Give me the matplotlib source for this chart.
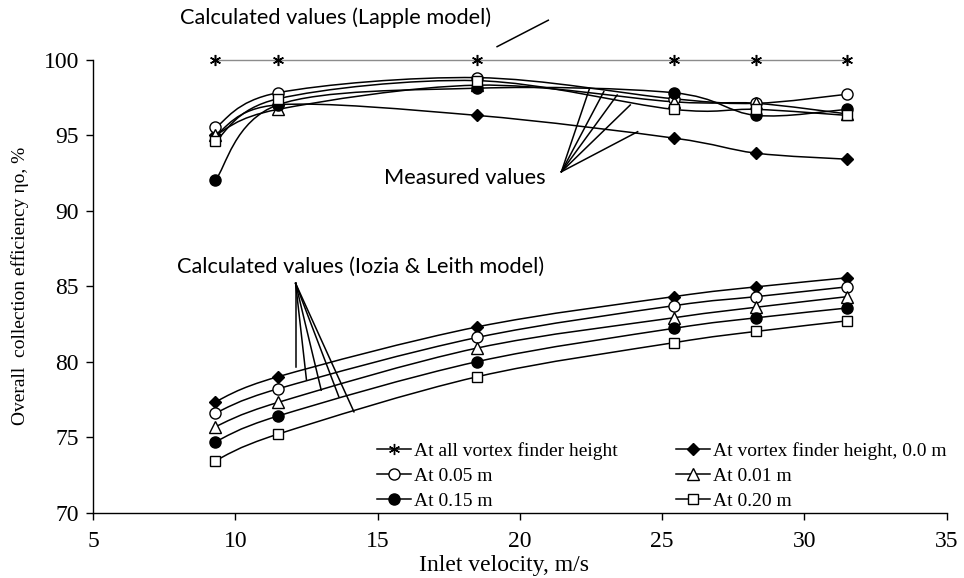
import numpy as np
import matplotlib
matplotlib.use("Agg")
import matplotlib.pyplot as plt
from matplotlib.path import Path
from matplotlib.patches import PathPatch
from matplotlib.lines import Line2D

# ---------------- data ----------------
velocity = [9.3, 11.5, 18.5, 25.4, 28.3, 31.5]

lapple_all = [100, 100, 100, 100, 100, 100]

meas_h000 = [95.0, 97.0, 96.3, 94.8, 93.8, 93.4]
meas_h005 = [95.5, 97.8, 98.8, 97.4, 97.1, 97.7]
meas_h001 = [95.0, 96.7, 98.3, 97.2, 97.1, 96.4]
meas_h015 = [92.0, 97.0, 98.1, 97.8, 96.3, 96.7]
meas_h020 = [94.6, 97.4, 98.6, 96.7, 96.7, 96.3]

iozia_h000 = [77.35, 79.0, 82.3, 84.3, 84.95, 85.55]
iozia_h005 = [76.6, 78.2, 81.6, 83.7, 84.3, 84.95]
iozia_h001 = [75.7, 77.3, 80.9, 82.9, 83.6, 84.3]
iozia_h015 = [74.7, 76.4, 80.0, 82.2, 82.9, 83.55]
iozia_h020 = [73.45, 75.2, 79.0, 81.25, 82.0, 82.7]

legend_labels = ["At all vortex finder height", "At vortex finder height, 0.0 m",
                 "At 0.05 m", "At 0.01 m", "At 0.15 m", "At 0.20 m"]

x_ticks = [5, 10, 15, 20, 25, 30, 35]
y_ticks = [70, 75, 80, 85, 90, 95, 100]

# ---------------- style ----------------
SERIF = ["Liberation Serif", "DejaVu Serif"]
SANS = ["Lato", "DejaVu Sans"]
ANN_FS = 15.7

fig = plt.figure(figsize=(9.64, 5.78), dpi=100)
ax = fig.add_axes([93 / 964, 1 - 512.7 / 578, (946.7 - 93) / 964, (512.7 - 59.5) / 578])
ax.set_xlim(5, 35)
ax.set_ylim(70, 100)


def smooth_path(xs, ys):
    """Excel-like smoothed line (Catmull-Rom cubic Bezier)."""
    pts = np.column_stack([xs, ys]).astype(float)
    n = len(pts)
    verts = [pts[0]]
    codes = [Path.MOVETO]
    for i in range(n - 1):
        p0 = pts[i - 1] if i > 0 else pts[i]
        p1 = pts[i]
        p2 = pts[i + 1]
        p3 = pts[i + 2] if i + 2 < n else pts[i + 1]
        c1 = p1 + (p2 - p0) / 6.0
        c2 = p2 - (p3 - p1) / 6.0
        verts += [c1, c2, p2]
        codes += [Path.CURVE4] * 3
    return Path(verts, codes)


def draw_series(ys, marker, mfc, color="black", lw=1.1, ms=7.5):
    ax.add_patch(PathPatch(smooth_path(velocity, ys), facecolor="none",
                           edgecolor=color, lw=lw, zorder=2))
    ax.plot(velocity, ys, linestyle="none", marker=marker, ms=ms,
            mfc=mfc, mec="black", mew=1.0, zorder=3, clip_on=False)


series_style = [
    ("D", "black", 6.5),
    ("o", "white", 8.0),
    ("^", "white", 8.0),
    ("o", "black", 8.0),
    ("s", "white", 7.5),
]

meas = [meas_h000, meas_h005, meas_h001, meas_h015, meas_h020]
iozia = [iozia_h000, iozia_h005, iozia_h001, iozia_h015, iozia_h020]

STAR = (6, 2, 0)

# Lapple line
ax.plot(velocity, lapple_all, color="#8c8c8c", lw=1.0, zorder=2, clip_on=False)
ax.plot(velocity, lapple_all, linestyle="none", marker=STAR, ms=8,
        mec="black", mew=1.1, zorder=3, clip_on=False)

for ys, (mk, fc, ms) in zip(iozia, series_style):
    draw_series(ys, mk, fc, ms=ms)
for ys, (mk, fc, ms) in zip(meas, series_style):
    draw_series(ys, mk, fc, ms=ms)

# ---------------- axes ----------------
for s in ["top", "right"]:
    ax.spines[s].set_visible(False)
for s in ["left", "bottom"]:
    ax.spines[s].set_linewidth(1.0)
ax.set_xticks(x_ticks)
ax.set_yticks(y_ticks)
ax.tick_params(direction="out", length=5, width=1.0, labelsize=17)
ax.tick_params(axis="x", pad=8)
ax.tick_params(axis="y", pad=5)
for lab in ax.get_xticklabels() + ax.get_yticklabels():
    lab.set_family(SERIF)
xl = ax.set_xlabel("Inlet velocity, m/s", family=SERIF, fontsize=17)
xl.set_va("center")
ax.xaxis.set_label_coords((504 - 93.3) / 853.4, (512.7 - 565) / 453.2)
yl = ax.set_ylabel("Overall  collection efficiency ηo, %", family=SERIF, fontsize=14)
yl.set_va("center")
ax.yaxis.set_label_coords((20 - 93.3) / 853.4, 0.5)

# ---------------- annotations ----------------
ax.text(13.54, 102.75, "Calculated values (Lapple model)", family=SANS, fontsize=ANN_FS,
        ha="center", va="center", clip_on=False)
ax.text(18.05, 92.15, "Measured values", family=SANS, fontsize=ANN_FS,
        ha="center", va="center")
ax.text(14.41, 86.28, "Calculated values (Iozia & Leith model)", family=SANS, fontsize=ANN_FS,
        ha="center", va="center")

# pointer for Lapple label
ax.plot([19.2, 21.0], [100.85, 102.6], color="black", lw=1.1, clip_on=False)

apex_m = (21.46, 92.57)
for ex, ey in [(22.45, 98.09), (22.95, 97.87), (23.42, 97.65), (23.88, 96.99), (24.14, 95.22)]:
    ax.plot([apex_m[0], ex], [apex_m[1], ey], color="black", lw=1.1, zorder=4)

apex_i = (12.12, 85.18)
for ex, ey in [(12.12, 79.66), (12.50, 78.82), (13.02, 78.11), (13.64, 77.67), (14.17, 76.68)]:
    ax.plot([apex_i[0], ex], [apex_i[1], ey], color="black", lw=1.1, zorder=4)

# ---------------- legend ----------------
def handle(marker, mfc, ms, color="black"):
    return Line2D([], [], color=color, lw=1.1, marker=marker, mfc=mfc, mec="black",
                  ms=ms, mew=1.0)

h_all = handle(STAR, "black", 8)
h = [handle(mk, fc, ms) for mk, fc, ms in series_style]
handles = [h_all, h[1], h[3], h[0], h[2], h[4]]
labels = [legend_labels[0], legend_labels[2], legend_labels[4],
          legend_labels[1], legend_labels[3], legend_labels[5]]
leg = ax.legend(handles, labels, ncol=2, frameon=False,
                prop={"family": SERIF, "size": 14},
                loc="upper left", bbox_to_anchor=(377 / 964, 1 - 442 / 578),
                bbox_transform=fig.transFigure,
                handlelength=1.75, handletextpad=0.15, labelspacing=0.38,
                columnspacing=3.0, borderpad=0, borderaxespad=0)

fig.savefig("out.png", dpi=100)
